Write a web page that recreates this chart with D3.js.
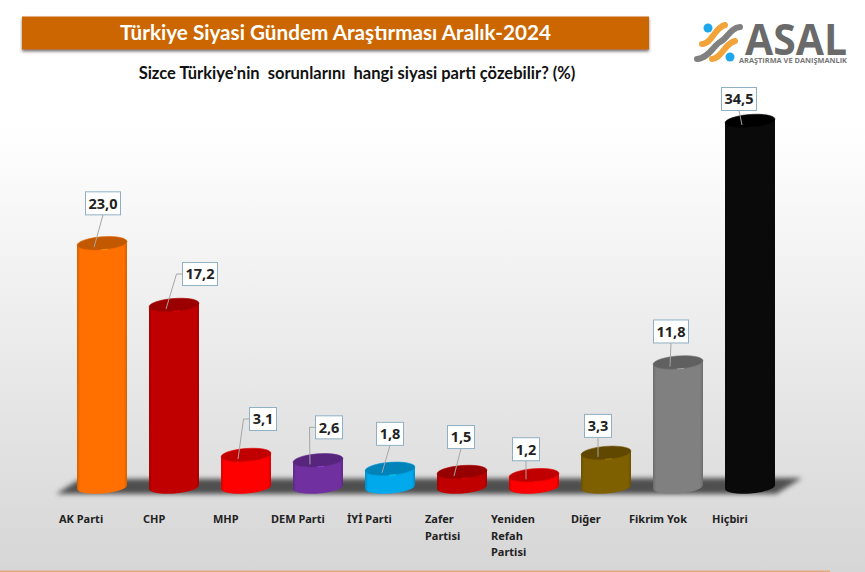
<!DOCTYPE html>
<html>
<head>
<meta charset="utf-8">
<script src="https://cdn.jsdelivr.net/npm/d3@7"></script>
<style>
  html, body { margin: 0; padding: 0; background: #fff; }
  svg { display: block; }
</style>
</head>
<body>
<div id="chart"></div>
<script>
// chart values
const parties = ["AK Parti", "CHP", "MHP", "DEM Parti", "İYİ Parti", "Zafer Partisi", "Yeniden Refah Partisi", "Diğer", "Fikrim Yok", "Hiçbiri"];
const values = [23.0, 17.2, 3.1, 2.6, 1.8, 1.5, 1.2, 3.3, 11.8, 34.5];
const sideColors = ["#ff7000", "#c00000", "#ff0000", "#7030a0", "#00a8ec", "#c00000", "#ff0000", "#7f6000", "#808080", "#0a0a0a"];
const topColors = ["#c25800", "#9a0000", "#c00000", "#57247e", "#0083b8", "#960000", "#c00000", "#604800", "#606060", "#000000"];
const titleText = "Türkiye Siyasi Gündem Araştırması Aralık-2024";
const subtitleText = "Sizce Türkiye’nin  sorunlarını  hangi siyasi parti çözebilir? (%)";

let svgWidth = 865;
let svgHeight = 572;

let svg = d3.select("#chart")
  .append("svg")
  .attr("width", svgWidth)
  .attr("height", svgHeight);

let defs = svg.append("defs");

// page background
let bg = defs.append("linearGradient").attr("id", "bg")
  .attr("x1", 0).attr("x2", 0).attr("y1", 0).attr("y2", 1);
bg.append("stop").attr("offset", "0.22").attr("stop-color", "#ffffff");
bg.append("stop").attr("offset", "1").attr("stop-color", "#d6d6d6");

svg.append("rect")
  .attr("width", svgWidth)
  .attr("height", svgHeight)
  .attr("fill", "url(#bg)");

svg.append("rect")
  .attr("x", 0).attr("y", 570.5)
  .attr("width", 830).attr("height", 1.5)
  .attr("fill", "#e3a878");

defs.append("filter").attr("id", "blur").attr("x", "-10%").attr("y", "-50%").attr("width", "120%").attr("height", "200%")
  .append("feGaussianBlur").attr("stdDeviation", 2.5);
defs.append("filter").attr("id", "bannerShadow").attr("x", "-5%").attr("y", "-20%").attr("width", "110%").attr("height", "150%")
  .append("feDropShadow").attr("dx", 0).attr("dy", 2).attr("stdDeviation", 1.5).attr("flood-color", "#555").attr("flood-opacity", 0.8);

// title banner
svg.append("rect")
  .attr("x", 22).attr("y", 16.5)
  .attr("width", 627).attr("height", 33)
  .attr("fill", "#cc6600")
  .attr("filter", "url(#bannerShadow)");

svg.append("text")
  .attr("x", 335.5).attr("y", 40)
  .attr("text-anchor", "middle")
  .attr("font-family", "Lato, sans-serif")
  .attr("font-weight", 700)
  .attr("font-size", 20.7)
  .attr("fill", "#fff")
  .text(titleText);

svg.append("text")
  .attr("x", 357).attr("y", 79)
  .attr("text-anchor", "middle")
  .attr("font-family", "Lato, sans-serif")
  .attr("font-weight", 700)
  .attr("font-size", 16.5)
  .attr("fill", "#111")
  .style("white-space", "pre")
  .text(subtitleText);

// logo
let logo = svg.append("g").attr("class", "logo");
let strand = (d, c) => logo.append("path").attr("d", d).attr("fill", "none")
  .attr("stroke", c).attr("stroke-width", 6).attr("stroke-linecap", "round");
strand("M697 59 C708 59 715 44 720 42 C728 38 730 28 740 27", "#808080");
strand("M702 44 C712 44 714 28 725 25", "#f2a33a");
strand("M712 59 C722 58 724 44 735 41", "#f2a33a");
logo.append("circle").attr("cx", 708).attr("cy", 28).attr("r", 4.5).attr("fill", "#1ea7ea");
logo.append("circle").attr("cx", 730).attr("cy", 57).attr("r", 4.5).attr("fill", "#1ea7ea");
logo.append("text")
  .attr("x", 745).attr("y", 55)
  .attr("font-family", "'Open Sans', sans-serif")
  .attr("font-weight", 700)
  .attr("font-size", 43)
  .attr("textLength", 102)
  .attr("lengthAdjust", "spacingAndGlyphs")
  .attr("fill", "#6a6a6a")
  .text("ASAL");
logo.append("text")
  .attr("x", 739).attr("y", 63)
  .attr("font-family", "'Open Sans', sans-serif")
  .attr("font-weight", 700)
  .attr("font-size", 7.5)
  .attr("textLength", 108)
  .attr("lengthAdjust", "spacingAndGlyphs")
  .attr("fill", "#777")
  .text("ARAŞTIRMA VE DANIŞMANLIK");

// scales
let xScale = d3.scaleBand()
  .domain(parties)
  .range([66, 786])
  .paddingInner(0.306)
  .paddingOuter(0.153);

let yScale = d3.scaleLinear()
  .domain([0, 34.5])
  .range([488, 121]);

// floor under the bars
svg.append("path")
  .attr("d", "M56 494 L80 479 L802 478 L776 494 Z")
  .attr("fill", "#4f4f4f")
  .attr("filter", "url(#blur)");

// cylinders
let tilt = -4.5;
let ry = 6.5;
let bars = svg.append("g").selectAll("g")
  .data(parties)
  .enter()
  .append("g");

bars.each(function(name, i) {
  let g = d3.select(this);
  let x0 = xScale(name);
  let w = xScale.bandwidth();
  let cx = x0 + w / 2;
  let top = yScale(values[i]);
  let bottom = yScale(0) - 1;
  let rx = w / 2;

  let grad = defs.append("linearGradient").attr("id", "side" + i);
  let c = d3.color(sideColors[i]);
  grad.append("stop").attr("offset", 0).attr("stop-color", c.darker(0.5));
  grad.append("stop").attr("offset", 0.06).attr("stop-color", c);
  grad.append("stop").attr("offset", 0.94).attr("stop-color", c);
  grad.append("stop").attr("offset", 1).attr("stop-color", c.darker(0.5));

  // slope of the tilted ellipse at both edges
  let lift = rx * Math.sin(-tilt * Math.PI / 180);
  g.append("path")
    .attr("d", `M${x0} ${top + lift} L${x0} ${bottom + lift} A${rx} ${ry} ${tilt} 0 0 ${x0 + w} ${bottom - lift} L${x0 + w} ${top - lift} Z`)
    .attr("fill", `url(#side${i})`);

  g.append("ellipse")
    .attr("cx", cx).attr("cy", top)
    .attr("rx", rx).attr("ry", ry)
    .attr("transform", `rotate(${tilt} ${cx} ${top})`)
    .attr("fill", topColors[i])
    .attr("stroke", c.darker(0.3))
    .attr("stroke-width", 0.6);

  // small highlight on the front rim
  g.append("path")
    .attr("d", `M${cx - 1} ${top + ry} L${cx + 6} ${top + ry - 0.6}`)
    .attr("stroke", c.brighter(1.2))
    .attr("stroke-width", 1)
    .attr("opacity", 0.6);
});

// value labels, offset from the top of each bar
let boxOffsets = [[1, -40], [26, -31], [17, -36], [11, -33], [0, -35], [-1, -35], [-8, -26], [-8, -27], [-7, -31], [-11, -22]];
let labels = svg.append("g");

parties.forEach((name, i) => {
  let cx = xScale(name) + xScale.bandwidth() / 2;
  let top = yScale(values[i]);
  let bx = cx + boxOffsets[i][0];
  let by = top + boxOffsets[i][1];
  let label = values[i].toFixed(1).replace(".", ",");
  let boxW = label.length > 3 ? 35 : 27;
  let boxH = 23;
  let elbow = boxOffsets[i][0] > 10;
  let pts = elbow
    ? [[bx - boxW / 2, by], [bx - boxW / 2 - 6, by], [cx - 8, top + 4]]
    : [[bx, by + boxH / 2], [cx - 8, top + 4]];
  labels.append("path")
    .attr("d", d3.line()(pts))
    .attr("fill", "none")
    .attr("stroke", "#a6a6a6")
    .attr("stroke-width", 1);
  labels.append("rect")
    .attr("x", bx - boxW / 2).attr("y", by - boxH / 2)
    .attr("width", boxW).attr("height", boxH)
    .attr("fill", "#fff")
    .attr("stroke", "#8fb0c4")
    .attr("stroke-width", 1);
  labels.append("text")
    .attr("x", bx).attr("y", by + 5.3)
    .attr("text-anchor", "middle")
    .attr("font-family", "'Noto Sans', sans-serif")
    .attr("font-weight", 700)
    .attr("font-size", 14.5)
    .attr("fill", "#222")
    .text(label);
});

// category labels, wrapped like the original
let labelX = [59, 143, 213, 271, 347, 425, 491, 571, 629, 712];
let catLines = [["AK Parti"], ["CHP"], ["MHP"], ["DEM Parti"], ["İYİ Parti"], ["Zafer", "Partisi"], ["Yeniden", "Refah", "Partisi"], ["Diğer"], ["Fikrim Yok"], ["Hiçbiri"]];
let cats = svg.append("g")
  .attr("font-family", "'Noto Sans', sans-serif")
  .attr("font-weight", 700)
  .attr("font-size", 11)
  .attr("fill", "#222");

catLines.forEach((lines, i) => {
  let t = cats.append("text").attr("x", labelX[i]).attr("y", 523);
  lines.forEach((line, k) => {
    t.append("tspan")
      .attr("x", labelX[i])
      .attr("dy", k === 0 ? 0 : 16.5)
      .text(line);
  });
});
</script>
</body>
</html>
